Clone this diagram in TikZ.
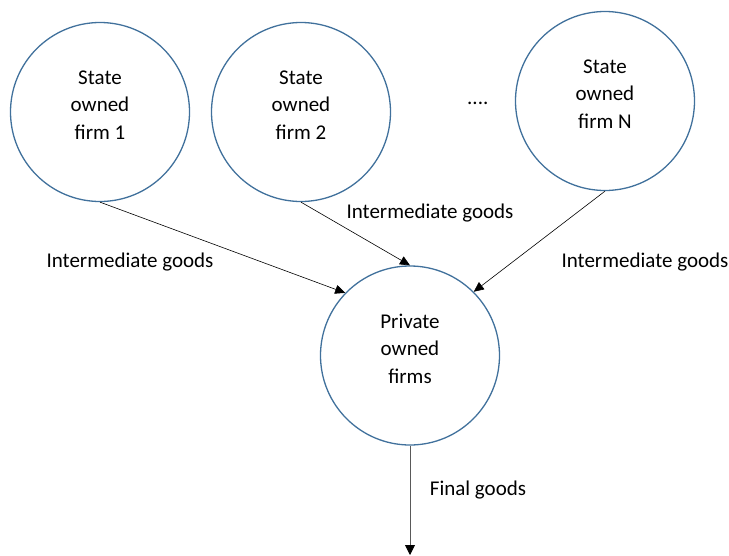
\documentclass[tikz,border=0pt]{standalone}
\usepackage{fontspec}
\setmainfont{Carlito}
\usetikzlibrary{arrows.meta}
\definecolor{cblue}{HTML}{41719C}
\begin{document}
\begin{tikzpicture}[x=1pt,y=-1pt,
  firm/.style={circle, draw=cblue, line width=1.3pt, minimum size=179pt, inner sep=0pt},
  txt/.style={font=\fontsize{21}{27.5}\selectfont, align=center, inner sep=0pt},
  flow/.style={-{Triangle[length=10pt,width=9pt]}, line width=0.6pt, black},
  fflow/.style={-{Triangle[length=10pt,width=10pt,black]}, line width=0.9pt, draw=gray!70!black}]
\useasboundingbox (0,0) rectangle (729,555);
\node[firm] (f1) at (100,112) {};
\node[firm] (f2) at (301,112) {};
\node[firm] (fN) at (605,101) {};
\node[firm] (pr) at (410,355.5) {};
\node[txt] (f1t) at (100,105) {State\\owned\\firm 1};
\node[txt] (f2t) at (301,105) {State\\owned\\firm 2};
\node[txt] (fNt) at (605,94) {State\\owned\\firm N};
\node[txt] (prt) at (410,348.5) {Private\\owned\\firms};
\node[txt, anchor=base west] (dots) at (467,104) {....};
\coordinate (out) at (410,555);
\draw[flow] (f1.south) -- (pr.136);
\draw[flow] (f2.south) -- (pr.north);
\draw[flow] (fN.south) -- (pr.45);
\draw[fflow] (pr.south) -- (out);
\node[txt] (l1) at (130,262) {Intermediate goods};
\node[txt] (l2) at (430,213) {Intermediate goods};
\node[txt] (l3) at (645,262) {Intermediate goods};
\node[txt] (l4) at (478,490) {Final goods};
\end{tikzpicture}
\end{document}
